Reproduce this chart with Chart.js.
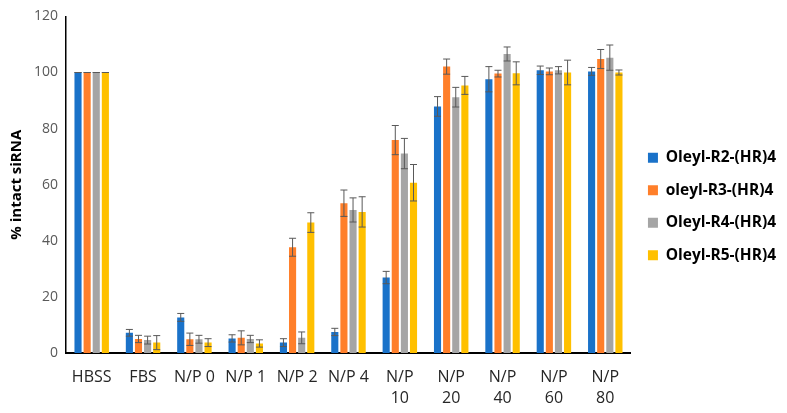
<!DOCTYPE html>
<html>
<head>
<meta charset="utf-8">
<script src="https://cdn.jsdelivr.net/npm/chart.js@4/dist/chart.umd.min.js"></script>
<style>
  html, body { margin: 0; padding: 0; background: #fff; }
  #wrap { width: 787px; height: 413px; }
</style>
</head>
<body>
<div id="wrap"><canvas id="chart"></canvas></div>
<script>
// categories
var categories = ["HBSS", "FBS", "N/P 0", "N/P 1", "N/P 2", "N/P 4",
    ["N/P", "10"], ["N/P", "20"], ["N/P", "40"], ["N/P", "60"], ["N/P", "80"]];

// series (% intact siRNA)
var r2Values = [100, 7.2, 12.7, 5.2, 3.7, 7.5, 26.9, 87.9, 97.6, 100.8, 100.4];
var r3Values = [100, 5.0, 4.9, 5.4, 37.7, 53.4, 75.9, 102.1, 99.6, 100.4, 104.8];
var r4Values = [100, 4.6, 4.9, 5.0, 5.4, 51.0, 71.1, 91.2, 106.6, 100.8, 105.3];
var r5Values = [100, 3.7, 3.7, 3.4, 46.5, 50.3, 60.7, 95.4, 99.7, 100.0, 100.0];

// error bars (+/-)
var r2Errors = [0, 1.2, 1.4, 1.3, 1.4, 1.3, 2.2, 3.5, 4.5, 1.5, 1.4];
var r3Errors = [0, 1.3, 2.2, 2.5, 3.2, 4.7, 5.2, 2.7, 1.2, 1.2, 3.4];
var r4Errors = [0, 1.4, 1.4, 1.3, 2.1, 4.3, 5.4, 3.5, 2.5, 1.3, 4.5];
var r5Errors = [0, 2.5, 1.4, 1.3, 3.5, 5.4, 6.5, 3.2, 4.1, 4.4, 0.9];

var yTicks = [0, 20, 40, 60, 80, 100, 120];

var seriesNames = ["Oleyl-R2-(HR)4", "oleyl-R3-(HR)4", "Oleyl-R4-(HR)4", "Oleyl-R5-(HR)4"];
var seriesColors = ["#1a72c9", "#ff7f2a", "#a5a5a5", "#ffc000"];
var seriesValues = [r2Values, r3Values, r4Values, r5Values];
var seriesErrors = [r2Errors, r3Errors, r4Errors, r5Errors];

// 에러바 그리기 (오차 0 이어도 캡은 그림)
var errorBarPlugin = {
    id: "errorBars",
    afterDatasetsDraw: function(chart) {
        var ctx = chart.ctx;
        var yScale = chart.scales.y;
        ctx.save();
        ctx.strokeStyle = "#595959";
        ctx.lineWidth = 1;
        chart.data.datasets.forEach(function(ds, di) {
            var meta = chart.getDatasetMeta(di);
            meta.data.forEach(function(bar, i) {
                var err = ds.errors[i];
                var v = ds.data[i];
                var yTop = yScale.getPixelForValue(v + err);
                var yBot = yScale.getPixelForValue(v - err);
                var x = bar.x;
                ctx.beginPath();
                ctx.moveTo(x, yTop); ctx.lineTo(x, yBot);
                ctx.moveTo(x - 3.5, yTop); ctx.lineTo(x + 3.5, yTop);
                ctx.moveTo(x - 3.5, yBot); ctx.lineTo(x + 3.5, yBot);
                ctx.stroke();
            });
        });
        ctx.restore();
    }
};

var datasets = seriesNames.map(function(name, i) {
    return {
        label: name,
        data: seriesValues[i],
        errors: seriesErrors[i],
        backgroundColor: seriesColors[i],
        borderWidth: 0,
        barPercentage: 0.78,
        categoryPercentage: 0.71
    };
});

new Chart(document.getElementById("chart"), {
    type: "bar",
    data: { labels: categories, datasets: datasets },
    plugins: [errorBarPlugin],
    options: {
        responsive: true,
        maintainAspectRatio: false,
        animation: false,
        devicePixelRatio: 1,
        layout: { padding: { top: 0, right: 1, bottom: 0, left: 8 } },
        plugins: {
            tooltip: { enabled: false },
            legend: {
                position: "right",
                labels: {
                    boxWidth: 10,
                    boxHeight: 10,
                    padding: 17,
                    color: "#000",
                    font: { family: "'Open Sans', sans-serif", size: 15.5, weight: "bold" }
                }
            }
        },
        scales: {
            x: {
                grid: { display: false, drawTicks: false },
                border: { color: "#000", width: 2 },
                afterFit: function(axis) { axis.height = 60; },
                ticks: {
                    color: "#262626",
                    maxRotation: 0,
                    autoSkip: false,
                    padding: 14,
                    font: { family: "'Open Sans', sans-serif", size: 16, lineHeight: 1.3 }
                }
            },
            y: {
                min: 0,
                max: 120,
                afterBuildTicks: function(axis) {
                    axis.ticks = yTicks.map(function(v) { return { value: v }; });
                },
                grid: { display: false, drawTicks: false },
                border: { color: "#000", width: 1.5 },
                ticks: {
                    color: "#595959",
                    padding: 8,
                    font: { family: "'Open Sans', sans-serif", size: 14 }
                },
                title: {
                    display: true,
                    text: "% intact siRNA",
                    color: "#000",
                    padding: { top: 0, bottom: 0 },
                    font: { family: "'Open Sans', sans-serif", size: 15, weight: "bold" }
                }
            }
        }
    }
});
</script>
</body>
</html>
